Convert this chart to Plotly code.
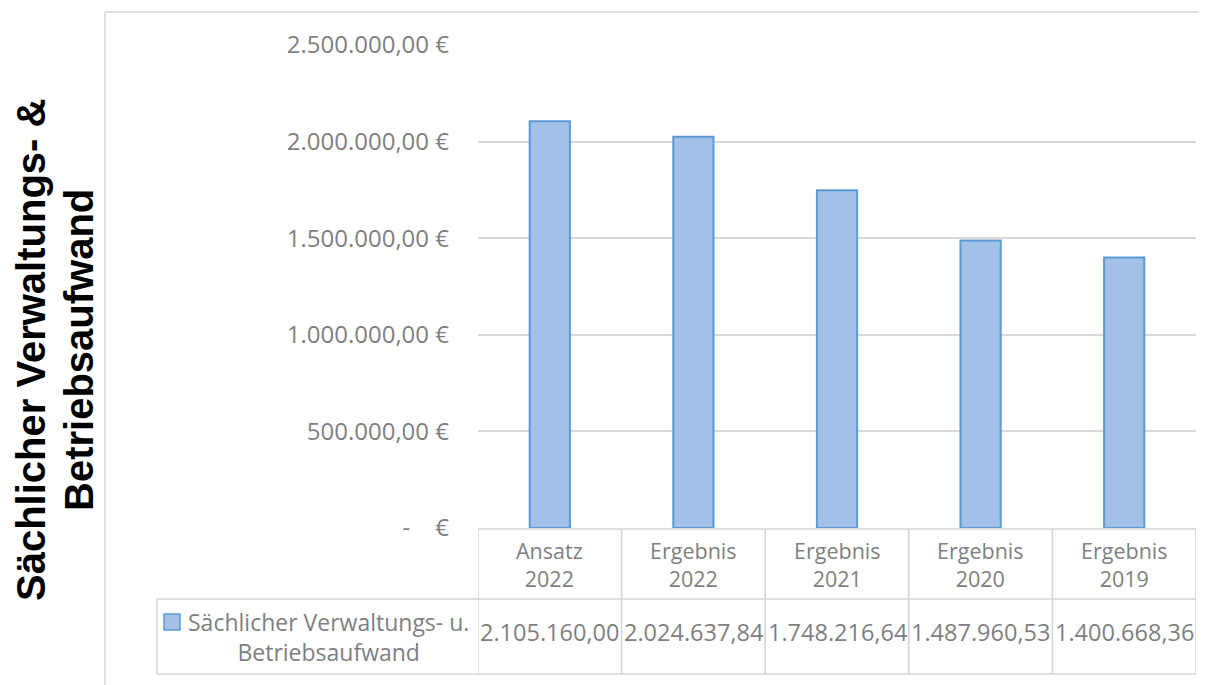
import plotly.graph_objects as go

# ---- data ----
categories = ["Ansatz<br>2022", "Ergebnis<br>2022", "Ergebnis<br>2021", "Ergebnis<br>2020", "Ergebnis<br>2019"]
values = [2105160.00, 2024637.84, 1748216.64, 1487960.53, 1400668.36]
tick_vals = [0, 500000, 1000000, 1500000, 2000000, 2500000]
tick_text = ["-\u00a0\u00a0\u00a0\u00a0€", "500.000,00 €", "1.000.000,00 €", "1.500.000,00 €",
             "2.000.000,00 €", "2.500.000,00 €"]
series_name = "Sächlicher Verwaltungs- u.<br>Betriebsaufwand"
y_title_lines = ["Sächlicher Verwaltungs- &", "Betriebsaufwand"]


def de_fmt(v):
    s = f"{v:,.2f}"
    return s.replace(",", "X").replace(".", ",").replace("X", ".")


value_labels = [de_fmt(v) for v in values]

OFF = 8  # page body margin
W, H = 1207 - OFF, 685 - OFF
L, R, T, B = 478 - OFF, 11, 45 - OFF, 157
plot_w = W - L - R
plot_h = H - T - B


def px_x(x):  # window pixel -> paper
    return (x - OFF - L) / plot_w


def px_y(y):
    return (H - B - (y - OFF)) / plot_h


FONT = "Open Sans"
GRAY = "#7f7f7f"
LINE = "#d4d4d4"
BAR_FILL = "#a3c1e7"
BAR_LINE = "#5b9bd5"

idx = list(range(len(categories)))

fig = go.Figure()
fig.add_trace(go.Bar(
    x=idx, y=values, width=0.28,
    marker=dict(color=BAR_FILL, line=dict(color=BAR_LINE, width=2)),
    showlegend=False, hoverinfo="skip",
))

shapes = []
annotations = []

# chart border (left and top)
shapes.append(dict(type="line", xref="paper", yref="paper", x0=px_x(105), x1=px_x(105),
                   y0=px_y(12), y1=px_y(700), line=dict(color="#d9d9d9", width=1.5)))
shapes.append(dict(type="line", xref="paper", yref="paper", x0=px_x(105), x1=px_x(1220),
                   y0=px_y(12), y1=px_y(12), line=dict(color="#d9d9d9", width=1.5)))

# data table
y_top, y_mid, y_bot = px_y(529), px_y(599), px_y(674)
n = len(categories)
shapes.append(dict(type="line", xref="x", yref="paper", x0=-0.5, x1=n - 0.5, y0=y_top, y1=y_top,
                   line=dict(color=LINE, width=1.5)))
shapes.append(dict(type="line", xref="paper", yref="paper", x0=px_x(157), x1=1, y0=y_mid, y1=y_mid,
                   line=dict(color=LINE, width=1.5)))
shapes.append(dict(type="line", xref="paper", yref="paper", x0=px_x(157), x1=1, y0=y_bot, y1=y_bot,
                   line=dict(color=LINE, width=1.5)))
for k in range(n + 1):
    shapes.append(dict(type="line", xref="x", yref="paper", x0=k - 0.5, x1=k - 0.5, y0=y_top, y1=y_bot,
                       line=dict(color=LINE, width=1.5)))
shapes.append(dict(type="line", xref="paper", yref="paper", x0=px_x(157), x1=px_x(157), y0=y_mid, y1=y_bot,
                   line=dict(color=LINE, width=1.5)))
# legend key
shapes.append(dict(type="rect", xref="paper", yref="paper", x0=px_x(164), x1=px_x(180),
                   y0=px_y(630), y1=px_y(614), fillcolor=BAR_FILL, line=dict(color=BAR_LINE, width=1.5)))

for i, (c, v) in enumerate(zip(categories, value_labels)):
    annotations.append(dict(x=i, y=(y_top + y_mid) / 2, xref="x", yref="paper", text=c, showarrow=False,
                            xanchor="center", yanchor="middle",
                            font=dict(family=FONT, size=21.5, color=GRAY)))
    annotations.append(dict(x=i, y=px_y(632), xref="x", yref="paper", text=v, showarrow=False,
                            xanchor="center", yanchor="middle",
                            font=dict(family=FONT, size=23.5, color=GRAY)))

annotations.append(dict(x=px_x(328), y=(y_mid + y_bot) / 2, xref="paper", yref="paper", text=series_name,
                        showarrow=False, xanchor="center", yanchor="middle", align="center",
                        font=dict(family=FONT, size=23, color=GRAY)))

# y axis title (two rotated lines)
for line_text, xc in zip(y_title_lines, [31, 79]):
    annotations.append(dict(x=px_x(xc), y=px_y(350), xref="paper", yref="paper",
                            text=line_text, textangle=-90, showarrow=False,
                            xanchor="center", yanchor="middle",
                            font=dict(family="Liberation Sans", size=40, color="black", weight="bold")))

fig.update_layout(
    width=W, height=H,
    margin=dict(l=L, r=R, t=T, b=B, pad=0),
    paper_bgcolor="white", plot_bgcolor="white",
    shapes=shapes, annotations=annotations,
    xaxis=dict(range=[-0.5, n - 0.5], showticklabels=False, showgrid=False, zeroline=False,
               showline=False, fixedrange=True),
    yaxis=dict(range=[0, 2500000], tickvals=tick_vals, ticktext=tick_text,
               showgrid=True, gridcolor="#d9d9d9", gridwidth=1.5, zeroline=False, showline=False,
               ticklabelstandoff=28, tickfont=dict(family=FONT, size=24, color=GRAY)),
)

fig.write_html("out.html")
